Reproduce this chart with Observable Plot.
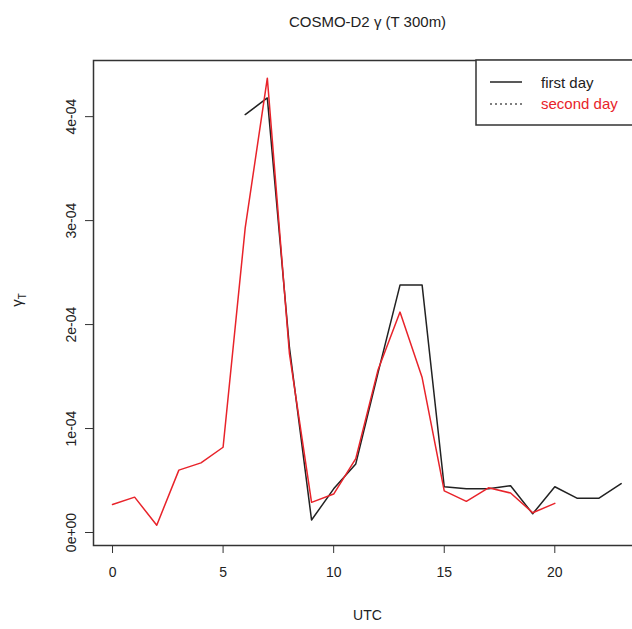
<!DOCTYPE html>
<html><head><meta charset="utf-8">
<script src="https://cdn.jsdelivr.net/npm/d3@7"></script>
<script src="https://cdn.jsdelivr.net/npm/@observablehq/plot@0.6"></script>
<style>body{margin:0;overflow:hidden;background:#fff}</style>
</head><body><div id="chart"></div>
<script>
// horas UTC y valores gamma
const hoursFirst = [6,7,8,9,10,11,12,13,14,15,16,17,18,19,20,21,22,23]
const firstDay = [4.02,4.18,1.78,0.12,0.42,0.66,1.53,2.38,2.38,0.44,0.42,0.42,0.45,0.18,0.44,0.33,0.33,0.47]
const hoursSecond = [0,1,2,3,4,5,6,7,8,9,10,11,12,13,14,15,16,17,18,19,20]
const secondDay = [0.27,0.34,0.07,0.60,0.67,0.82,2.93,4.37,1.72,0.29,0.37,0.71,1.56,2.12,1.49,0.40,0.30,0.43,0.38,0.19,0.28]
const xTicks = [0,5,10,15,20]
const yTicks = [0,1e-4,2e-4,3e-4,4e-4]
const yLabels = ["0e+00","1e-04","2e-04","3e-04","4e-04"]

const d1 = hoursFirst.map((h,i) => ({h, v: firstDay[i]*1e-4}))
const d2 = hoursSecond.map((h,i) => ({h, v: secondDay[i]*1e-4}))

const font = "Liberation Sans, Arial, sans-serif"

let chart = Plot.plot({
  width: 641,
  height: 629,
  marginLeft: 93,
  marginRight: 0,
  marginTop: 60,
  marginBottom: 84,
  style: {fontFamily: font, fontSize: "14px", color: "#222", maxWidth: "none"},
  x: {domain: [-0.86, 23.92]},
  y: {domain: [-0.125e-4, 4.54e-4]},
  marks: [
    Plot.frame({stroke: "#333", strokeWidth: 1.5}),
    Plot.line(d1, {x: "h", y: "v", stroke: "#222", strokeWidth: 1.5}),
    Plot.line(d2, {x: "h", y: "v", stroke: "#e8232a", strokeWidth: 1.5}),
    Plot.axisX({ticks: xTicks, tickSize: 8, tickPadding: 14, label: null, fontSize: 14, stroke: "#333"}),
    Plot.axisY({ticks: yTicks, tickFormat: (d,i) => yLabels[i], tickSize: 8, tickPadding: 10,
      tickRotate: -90, label: null, fontSize: 14, stroke: "#333"}),
    Plot.text(["UTC"], {frameAnchor: "bottom", dy: 74, fontSize: 14, fill: "#222"}),
    Plot.text(["COSMO-D2 γ (T 300m)"], {frameAnchor: "top", dy: -44, fontSize: 15, fill: "#222"})
  ]
})

const svg = d3.select(chart)
// etiqueta del eje y con subindice
const yl = svg.append("text").attr("transform", "translate(22,300) rotate(-90)")
  .attr("text-anchor", "middle").style("font-family", font).style("font-size", "15px").attr("fill", "#222")
yl.append("tspan").text("γ")
yl.append("tspan").text("T").attr("dy", 4).style("font-size", "10px")

// leyenda en la esquina superior derecha
const g = svg.append("g").attr("text-anchor", "start")
g.append("rect").attr("x", 476).attr("y", 60).attr("width", 170).attr("height", 65)
  .attr("fill", "white").attr("stroke", "#333").attr("stroke-width", 1.5)
g.append("line").attr("x1", 490).attr("x2", 522).attr("y1", 82).attr("y2", 82).attr("stroke", "#222").attr("stroke-width", 1.5)
g.append("line").attr("x1", 490).attr("x2", 522).attr("y1", 104).attr("y2", 104).attr("stroke", "#555")
  .attr("stroke-width", 1.5).attr("stroke-dasharray", "2,3")
g.append("text").attr("x", 541).attr("y", 88).text("first day").attr("fill", "#222")
  .style("font-family", font).style("font-size", "15px")
g.append("text").attr("x", 541).attr("y", 109).text("second day").attr("fill", "#e8232a")
  .style("font-family", font).style("font-size", "15px")

d3.select('#chart').append(() => chart)
</script></body></html>
